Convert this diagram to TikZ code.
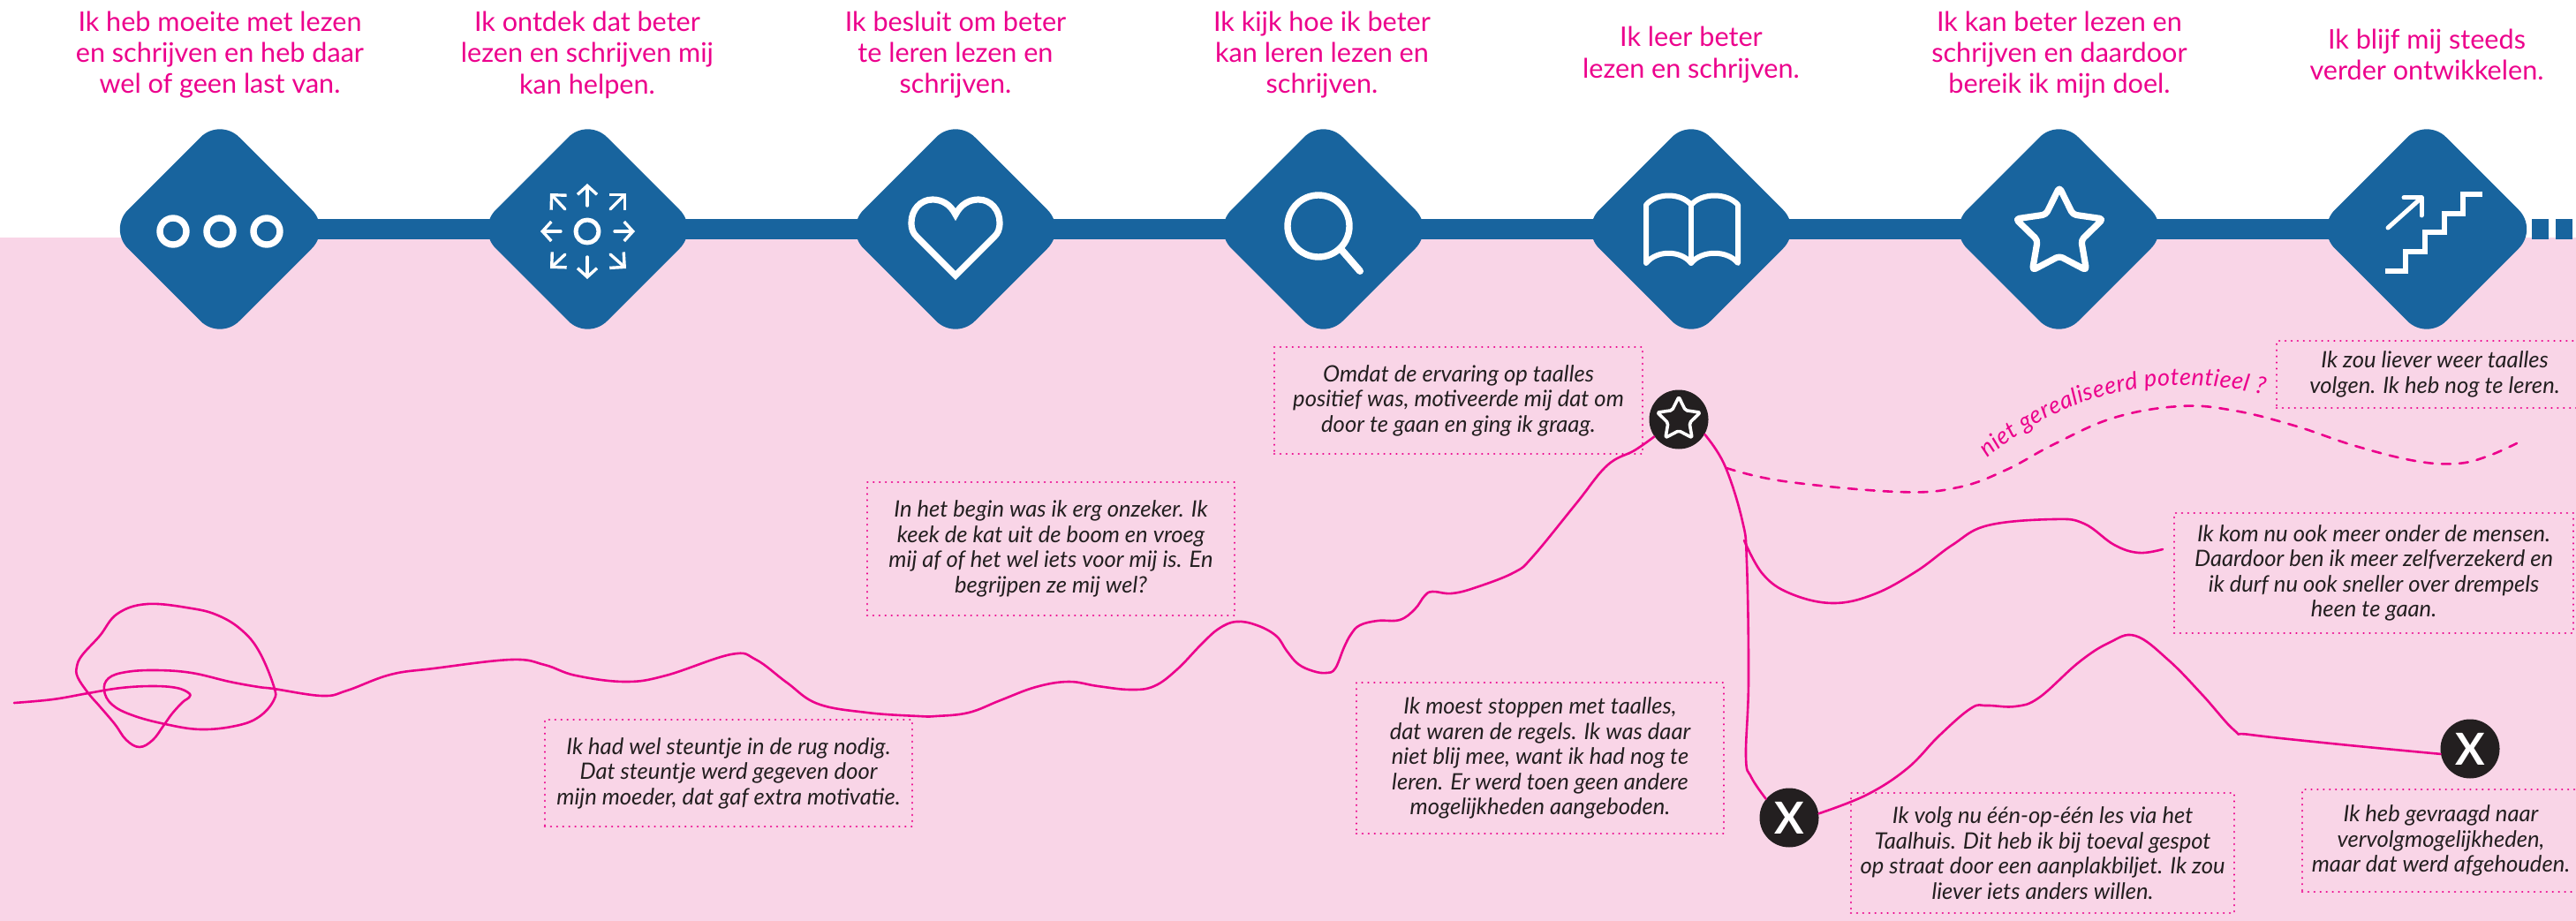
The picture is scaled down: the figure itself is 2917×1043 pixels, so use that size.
\documentclass[tikz,border=0pt]{standalone}
\usepackage{fontspec}
\setmainfont{Lato}
\usetikzlibrary{positioning, shapes.geometric, decorations.text, arrows.meta}

\begin{document}
\begin{tikzpicture}[
    x=0.5pt, y=-0.5pt,
    step_diamond/.style={diamond, fill=stepblue, inner sep=0pt, outer sep=0pt, minimum width=126pt, minimum height=126pt, aspect=1, rounded corners=15.5pt},
    step_bar/.style={draw=stepblue, line width=11.5pt},
    step_tail/.style={rectangle, fill=stepblue, inner sep=0pt, minimum width=9.5pt, minimum height=11.5pt},
    step_title/.style={align=center, text=linepink, font=\fontsize{15.3}{17.7}\selectfont},
    story_box/.style={rectangle, draw=linepink, line width=1.3pt, line cap=round, dash pattern=on 0.01pt off 3.45pt, inner sep=0pt, align=center, text=darktext, font=\fontsize{12.8}{14.25}\selectfont\itshape},
    mark_circle/.style={circle, fill=darktext, inner sep=0pt, minimum size=33.5pt, text=white, font=\fontsize{25}{25}\selectfont\bfseries},
    icon_line/.style={draw=white, line width=3pt, line cap=round, line join=round},
    arrow_icon/.style={icon_line, line width=1.7pt, -{Straight Barb[length=5pt, width=11pt, line width=1.7pt]}},
    corner_arrow_icon/.style={icon_line, line width=1.7pt, -{Straight Barb[length=6pt, width=12pt, line width=1.7pt]}},
    star_icon/.style={star, star points=5, star point ratio=2, draw=white, inner sep=0pt, line join=round},
    story_curve/.style={draw=linepink, line width=1.3pt, line cap=round}]

    % Define colors
    \definecolor{stepblue}{RGB}{24,100,158}
    \definecolor{linepink}{RGB}{236,0,140}
    \definecolor{bgpink}{RGB}{249,213,231}
    \definecolor{darktext}{RGB}{35,31,32}

    \useasboundingbox (0,0) rectangle (2917,1043);
    \fill[bgpink] (0,269) rectangle (2917,1043);

    % Steps
    \node[step_diamond] (stepA) at (249,259.5) {};
    \node[step_diamond, right=82.25pt of stepA] (stepB) {};
    \node[step_diamond, right=82.25pt of stepB] (stepC) {};
    \node[step_diamond, right=82.25pt of stepC] (stepD) {};
    \node[step_diamond, right=82.25pt of stepD] (stepE) {};
    \node[step_diamond, right=82.25pt of stepE] (stepF) {};
    \node[step_diamond, right=82.25pt of stepF] (stepG) {};
    \node[step_tail] (tailA) at (2876.5,259.5) {};
    \node[step_tail, right=3.5pt of tailA] (tailB) {};
    \draw[step_bar] (stepA.center) -- (stepB.center);
    \draw[step_bar] (stepB.center) -- (stepC.center);
    \draw[step_bar] (stepC.center) -- (stepD.center);
    \draw[step_bar] (stepD.center) -- (stepE.center);
    \draw[step_bar] (stepE.center) -- (stepF.center);
    \draw[step_bar] (stepF.center) -- (stepG.center);

    % Titles
    \node[step_title] (titleA) at (249,62) {Ik heb moeite met lezen\\en schrijven en heb daar\\wel of geen last van.};
    \node[step_title] (titleB) at (665,62) {Ik ontdek dat beter\\lezen en schrijven mij\\kan helpen.};
    \node[step_title] (titleC) at (1082,62) {Ik besluit om beter\\te leren lezen en\\schrijven.};
    \node[step_title] (titleD) at (1497,62) {Ik kijk hoe ik beter\\kan leren lezen en\\schrijven.};
    \node[step_title] (titleE) at (1915,62) {Ik leer beter\\lezen en schrijven.};
    \node[step_title] (titleF) at (2332,62) {Ik kan beter lezen en\\schrijven en daardoor\\bereik ik mijn doel.};
    \node[step_title] (titleG) at (2748,62) {Ik blijf mij steeds\\verder ontwikkelen.};

    % Icons
    % dots
    \draw[icon_line, line width=3.7pt] (196,262) circle[radius=15];
    \draw[icon_line, line width=3.7pt] (249,262) circle[radius=15];
    \draw[icon_line, line width=3.7pt] (302,262) circle[radius=15];
    % arrows all around
    \draw[icon_line, line width=2.5pt] (665,262) circle[radius=13];
    \draw[arrow_icon] (665,233) -- (665,208);
    \draw[arrow_icon] (665,291) -- (665,316);
    \draw[arrow_icon] (635,262) -- (612,262);
    \draw[arrow_icon] (696,262) -- (719,262);
    \draw[corner_arrow_icon] (640,237) -- (623,219);
    \draw[corner_arrow_icon] (691,237) -- (709,219);
    \draw[corner_arrow_icon] (640,288) -- (623,304);
    \draw[corner_arrow_icon] (691,288) -- (709,304);
    % heart
    \draw[icon_line, line width=3.6pt, line join=miter] (1082,243) .. controls (1076,231) and (1066,226) .. (1056,226)
        .. controls (1042,226) and (1032,238) .. (1032,252) .. controls (1032,260) and (1034,264) .. (1038,268)
        -- (1082,312) -- (1126,268) .. controls (1130,264) and (1132,260) .. (1132,252)
        .. controls (1132,238) and (1122,226) .. (1108,226) .. controls (1098,226) and (1088,231) .. (1082,243) -- cycle;
    % magnifier
    \draw[icon_line, line width=3.7pt] (1493,256) circle[radius=35];
    \draw[icon_line, line width=4pt] (1520,284) -- (1540,307);
    % book
    \draw[icon_line] (1864,298) -- (1864,232) .. controls (1876,218) and (1903,218) .. (1915,232)
        .. controls (1927,218) and (1956,218) .. (1968,232) -- (1968,298)
        .. controls (1956,283) and (1927,283) .. (1915,298) .. controls (1903,283) and (1876,283) .. (1864,298);
    \draw[icon_line] (1915,232) -- (1915,298);
    % star
    \node[star_icon, line width=3.6pt, minimum size=52pt, rounded corners=2pt] (iconstar) at (2332,264) {};
    % stairs and arrow
    \draw[icon_line, line cap=butt, line join=miter] (2701,307) -- (2724,307) -- (2724,285) -- (2746,285) -- (2746,263)
        -- (2768,263) -- (2768,242) -- (2789,242) -- (2789,220) -- (2811,220);
    \draw[icon_line, line width=2.5pt] (2704,258) -- (2742,224);
    \draw[icon_line, line width=2.5pt] (2722,224) -- (2742,224) -- (2742,244);

    % Story boxes
    \node[story_box, minimum width=208pt, minimum height=60.5pt] (boxA) at (825,875.5) {Ik had wel steuntje in de rug nodig.\\Dat steuntje werd gegeven door\\mijn moeder, dat gaf extra motivatie.};
    \node[story_box, minimum width=208pt, minimum height=75.5pt] (boxB) at (1190,621.5) {In het begin was ik erg onzeker. Ik\\keek de kat uit de boom en vroeg\\mij af of het wel iets voor mij is. En\\begrijpen ze mij wel?};
    \node[story_box, minimum width=208.5pt, minimum height=60.5pt] (boxC) at (1651.5,453.5) {Omdat de ervaring op taalles\\positief was, motiveerde mij dat om\\door te gaan en ging ik graag.};
    \node[story_box, minimum width=208pt, minimum height=85.5pt] (boxD) at (1744,858.5) {Ik moest stoppen met taalles,\\dat waren de regels. Ik was daar\\niet blij mee, want ik had nog te\\leren. Er werd toen geen andere\\mogelijkheden aangeboden.};
    \node[story_box, minimum width=217pt, minimum height=68pt] (boxE) at (2313,966) {Ik volg nu één-op-één les via het\\Taalhuis. Dit heb ik bij toeval gespot\\op straat door een aanplakbiljet. Ik zou\\liever iets anders willen.};
    \node[story_box, minimum width=157pt, minimum height=58pt] (boxF) at (2764,952) {Ik heb gevraagd naar\\vervolgmogelijkheden,\\maar dat werd afgehouden.};
    \node[story_box, minimum width=179pt, minimum height=38pt] (boxG) at (2757,424) {Ik zou liever weer taalles\\volgen. Ik heb nog te leren.};
    \node[story_box, minimum width=226pt, minimum height=68pt] (boxH) at (2688,649) {Ik kom nu ook meer onder de mensen.\\Daardoor ben ik meer zelfverzekerd en\\ik durf nu ook sneller over drempels\\heen te gaan.};

    % Marks
    \node[mark_circle] (markstar) at (1901,475) {};
    \node[star_icon, line width=1.8pt, minimum size=25.5pt, rounded corners=1pt] (markstaricon) at (1901,475) {};
    \node[mark_circle] (markstop) at (2026,926) {X};
    \node[mark_circle] (markend) at (2797,848) {X};
    \coordinate (linestart) at (16,796);
    \coordinate (branchtop) at (1975,612);
    \coordinate (dashstart) at (1955,530);

    % Curves
    \draw[story_curve] plot[smooth, tension=0.65] coordinates {(linestart) (60,792) (100,785) (137,779) (173,777) (200,779) (214,785) (214,790) (207,795) (195,808) (185,822) (173,838) (158,846) (143,838) (130,820) (113,800) (100,785) (88,767) (87,755) (93,742) (113,720) (133,695) (167,684) (217,689) (247,697) (273,713) (293,737) (310,777) (310,793) (293,812) (267,822) (227,826) (187,820) (150,810) (127,798) (118,782) (123,768) (143,761) (177,759) (217,762) (260,772) (293,778) (310,780) (365,788) (393,782) (442,764) (491,757) (579,747) (617,753) (652,765) (708,772) (754,765) (828,741) (856,747) (891,773) (926,797) (982,807) (1040,811) (1060,811) (1097,807) (1133,793) (1173,778) (1210,772) (1243,777) (1280,781) (1307,777) (1333,758) (1360,730) (1380,712) (1400,704) (1423,708) (1445,720) (1457,737) (1470,752) (1487,760) (1502,762) (1512,757) (1522,733) (1530,718) (1540,708) (1560,703) (1585,702) (1602,690) (1613,675) (1622,670) (1644,672) (1672,665) (1715,648) (1736,630) (1785,570) (1820,527) (1851,510) (markstar.215)};
    \draw[story_curve] plot[smooth, tension=0.65] coordinates {(markstar.-30) (1953,527) (1973,590) (1978,637) (1980,770) (1977,857) (1983,880) (markstop.141)};
    \draw[story_curve] plot[smooth, tension=0.65] coordinates {(markstop.8) (2114,900) (2160,870) (2196,833) (2232,802) (2250,799) (2282,800) (2309,790) (2354,750) (2388,728) (2418,720) (2456,748) (2494,787) (2530,827) (2548,832) (2650,843) (markend.190)};
    \draw[story_curve] plot[smooth, tension=0.65] coordinates {(branchtop) (1996,650) (2027,672) (2075,683) (2122,673) (2170,647) (2211,617) (2251,595) (2326,588) (2360,593) (2394,617) (2422,626) (2449,622)};
    \draw[story_curve, dash pattern=on 5pt off 5pt] plot[smooth, tension=0.65] coordinates {(dashstart) (2020,545) (2149,557) (2217,552) (2272,532) (2326,503) (2394,473) (2469,460) (2530,465) (2598,482) (2667,505) (2735,522) (2782,525) (2816,517) (2850,502)};

    % Label on the dashed curve
    \path[decorate, decoration={text along path, text align={fit to path}, text={|\fontsize{13.5}{15}\selectfont\itshape\color{linepink}|niet gerealiseerd potentieel ?}}] (2251,519) .. controls (2320,458) and (2430,415) .. (2563,447);
\end{tikzpicture}
\end{document}
